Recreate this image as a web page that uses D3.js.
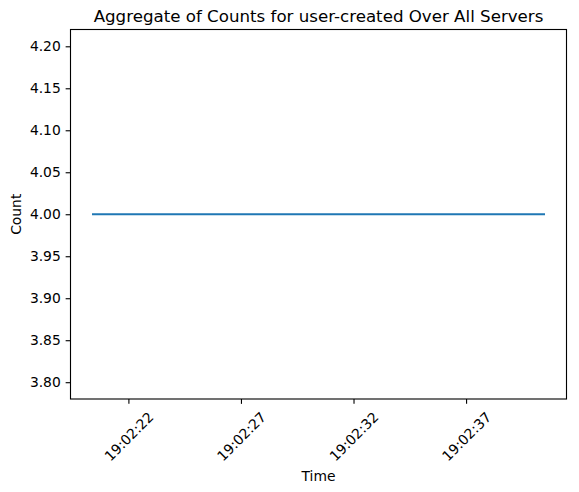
<!DOCTYPE html>
<html>
<head>
<meta charset="utf-8">
<script src="https://cdn.jsdelivr.net/npm/d3@7"></script>
<style>
  html, body { margin: 0; padding: 0; background: #fff; }
  svg { display: block; font-family: "DejaVu Sans", sans-serif; }
</style>
</head>
<body>
<svg id="chart" width="579" height="492"></svg>
<script>
// ---- data ----
const times = ["19:02:20.43", "19:02:25.44", "19:02:30.45", "19:02:35.45", "19:02:40.46"];
const counts = [4, 4, 4, 4, 4];
const xTickLabels = ["19:02:22", "19:02:27", "19:02:32", "19:02:37"];
const yTickValues = [3.80, 3.85, 3.90, 3.95, 4.00, 4.05, 4.10, 4.15, 4.20];
const yDomain = [3.78, 4.22];
const titleText = "Aggregate of Counts for user-created Over All Servers";
const xLabelText = "Time";
const yLabelText = "Count";

(function () {
// ---- helpers ----
function parseTime(s) {
  const [h, m, sec] = s.split(":");
  const secs = parseFloat(sec);
  const whole = Math.floor(secs);
  const ms = Math.round((secs - whole) * 1000);
  return new Date(2024, 0, 1, +h, +m, whole, ms);
}
const data = times.map((t, i) => ({ t: parseTime(t), v: counts[i] }));
const xTicks = xTickLabels.map(parseTime);

// ---- layout ----
const mLeft = 70.5, mRight = 566.5, mTop = 29.5, mBottom = 399;
const pt = 100 / 72;
const tickLen = 3.5 * pt, tickPad = 3.5 * pt;
const fsTick = 10 * pt, fsTitle = 12 * pt;

const svg = d3.select("#chart");

// x scale with 5% margins
const ext = d3.extent(data, d => d.t);
const span = ext[1] - ext[0];
const x = d3.scaleTime()
  .domain([new Date(+ext[0] - span * 0.05), new Date(+ext[1] + span * 0.05)])
  .range([mLeft, mRight]);
const y = d3.scaleLinear().domain(yDomain).range([mBottom, mTop]);

// line
const line = d3.line().x(d => x(d.t)).y(d => y(d.v));
svg.append("path")
  .datum(data)
  .attr("d", line)
  .attr("fill", "none")
  .attr("stroke", "#1f77b4")
  .attr("stroke-width", 1.5 * pt)
  .attr("stroke-linecap", "square");

// frame
svg.append("rect")
  .attr("x", mLeft).attr("y", mTop)
  .attr("width", mRight - mLeft).attr("height", mBottom - mTop)
  .attr("fill", "none").attr("stroke", "#000").attr("stroke-width", 0.8 * pt);

// y axis
const yAxis = d3.axisLeft(y).tickValues(yTickValues)
  .tickFormat(d3.format(".2f")).tickSize(tickLen).tickPadding(tickPad);
const gy = svg.append("g").attr("transform", `translate(${mLeft},0)`).call(yAxis);
gy.select(".domain").remove();
gy.selectAll(".tick line").attr("stroke", "#000").attr("stroke-width", 0.8 * pt);
gy.selectAll(".tick text")
  .attr("fill", "#000")
  .style("font-size", fsTick + "px")
  .style("font-family", "DejaVu Sans");

// x axis
const fmt = d3.timeFormat("%H:%M:%S");
const xAxis = d3.axisBottom(x).tickValues(xTicks).tickFormat(fmt)
  .tickSize(tickLen).tickPadding(tickPad);
const gx = svg.append("g").attr("transform", `translate(0,${mBottom})`).call(xAxis);
gx.select(".domain").remove();
gx.selectAll(".tick line").attr("stroke", "#000").attr("stroke-width", 0.8 * pt);
gx.selectAll(".tick text").each(function () {
  const t = d3.select(this);
  t.style("font-size", fsTick + "px").style("font-family", "DejaVu Sans").attr("fill", "#000");
  const len = this.getComputedTextLength();
  const h = fsTick * 1.17;
  const H = (len + h) * Math.SQRT1_2;
  const cy = tickLen + tickPad + H / 2;
  t.attr("x", 0).attr("y", 0).attr("dy", null)
    .attr("text-anchor", "middle")
    .attr("dominant-baseline", "central")
    .attr("transform", `translate(0,${cy}) rotate(-45)`);
});

// title
svg.append("text")
  .attr("x", (mLeft + mRight) / 2).attr("y", 22.3)
  .attr("text-anchor", "middle")
  .style("font-size", fsTitle + "px")
  .attr("fill", "#000")
  .text(titleText);

// x label
svg.append("text")
  .attr("x", (mLeft + mRight) / 2).attr("y", 481)
  .attr("text-anchor", "middle")
  .style("font-size", fsTick + "px")
  .attr("fill", "#000")
  .text(xLabelText);

// y label
svg.append("text")
  .attr("transform", `translate(21,${(mTop + mBottom) / 2}) rotate(-90)`)
  .attr("text-anchor", "middle")
  .style("font-size", fsTick + "px")
  .attr("fill", "#000")
  .text(yLabelText);
})();
</script>
</body>
</html>
